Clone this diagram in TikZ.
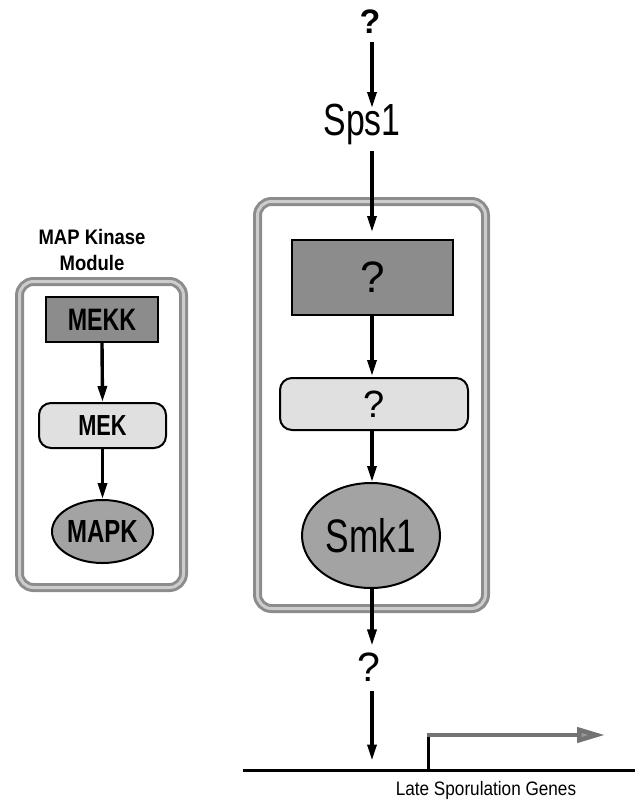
\documentclass[tikz,border=0pt]{standalone}
\usepackage{fontspec}
\setmainfont{Liberation Sans}
\newfontfamily\cond[FakeStretch=0.75]{Liberation Sans}
\newfontfamily\semicond[FakeStretch=0.88]{Liberation Sans}
\usetikzlibrary{shapes.geometric,arrows.meta}

\tikzset{
  arr/.style={line width=3.4pt,-{Triangle[length=16pt,width=9pt]}},
  frame/.style={draw=black!45,line width=3pt,double=black!20,double distance=3pt,
                rounded corners=14pt,inner sep=0pt},
  darkbox/.style={draw=black,line width=2pt,fill=black!45,inner sep=0pt},
  lightbox/.style={draw=black,line width=2pt,fill=black!12,rounded corners=12pt,inner sep=0pt},
  oval/.style={ellipse,draw=black,line width=2pt,fill=black!36,inner sep=0pt},
  lbl/.style={inner sep=0pt},
}

\begin{document}
\begin{tikzpicture}[x=1pt,y=-1pt]
\useasboundingbox (0,0) rectangle (641,801);

% ---------- MAP kinase module (left) ----------
\node[lbl,align=center,font=\semicond\bfseries\fontsize{21}{26}\selectfont] (title) at (92,250) {MAP Kinase\\Module};
\node[frame,minimum width=164pt,minimum height=306pt] (mapframe) at (101.5,434.5) {};
\node[darkbox,minimum width=112pt,minimum height=45pt,font=\cond\bfseries\fontsize{31}{31}\selectfont] (mekk) at (102,319.5) {MEKK};
\node[lightbox,minimum width=127pt,minimum height=45pt,font=\cond\bfseries\fontsize{29}{29}\selectfont] (mek) at (102.5,425.5) {MEK};
\node[oval,minimum width=101pt,minimum height=63pt,font=\cond\bfseries\fontsize{32}{32}\selectfont] (mapk) at (102.5,531.5) {MAPK};
\draw[arr] (mekk.south) -- (mek.north);
\draw[arr] (mek.south) -- (mapk.north);

% ---------- Sps1 / Smk1 pathway (right) ----------
\coordinate (colx) at (372,0);
\node[lbl,font=\bfseries\fontsize{34}{34}\selectfont] (qtop) at (370,22) {?};
\node[lbl,anchor=base,font=\cond\fontsize{45}{45}\selectfont] (sps) at (362,135) {Sps1};
\coordinate (spstip) at (372,108);
\node[frame,minimum width=228pt,minimum height=407pt] (smkframe) at (371.5,405) {};
\node[darkbox,minimum width=161pt,minimum height=75pt,font=\fontsize{44}{44}\selectfont] (qbox) at (372.5,277.5) {?};
\node[lightbox,minimum width=188pt,minimum height=52pt,font=\fontsize{38}{38}\selectfont] (qround) at (374,404) {?};
\node[oval,minimum width=138pt,minimum height=105pt,font=\cond\fontsize{47}{47}\selectfont] (smk) at (371,535.5) {Smk1};
\node[lbl,font=\fontsize{41}{41}\selectfont] (qlow) at (369,667) {?};

\draw[arr] (qtop.south -| colx) ++(0,8) -- (spstip);
\draw[arr] (sps.south -| colx) ++(0,6) -- ([yshift=7pt]qbox.north -| colx);
\draw[arr] (qbox.south -| colx) -- ([yshift=1pt]qround.north -| colx);
\draw[arr] (qround.south -| colx) -- (smk.north -| colx);
\draw[arr] (smk.south -| colx) -- ([yshift=7pt]qlow.north -| colx);
\draw[arr] ([yshift=-9pt]qlow.south -| colx) -- ++(0,70) coordinate (dnatip);

% ---------- promoter and DNA ----------
\coordinate (dnaL) at (243,770);
\coordinate (dnaR) at (635,770);
\coordinate (tss) at (428,770);
\coordinate (tsstop) at (428,735);
\coordinate (txend) at (605,735);
\draw[line width=3pt] (dnaL) -- (dnaR);
\draw[line width=4.5pt,black!55,-{Triangle[length=28pt,width=15pt,fill=black!40]}] ([xshift=-1pt]tsstop) -- (txend);
\draw[line width=3pt] (tss) -- ([yshift=-2pt]tsstop);
\node[lbl,font=\semicond\fontsize{19.5}{19.5}\selectfont] (genes) at (486,790) {Late Sporulation Genes};
\end{tikzpicture}
\end{document}
